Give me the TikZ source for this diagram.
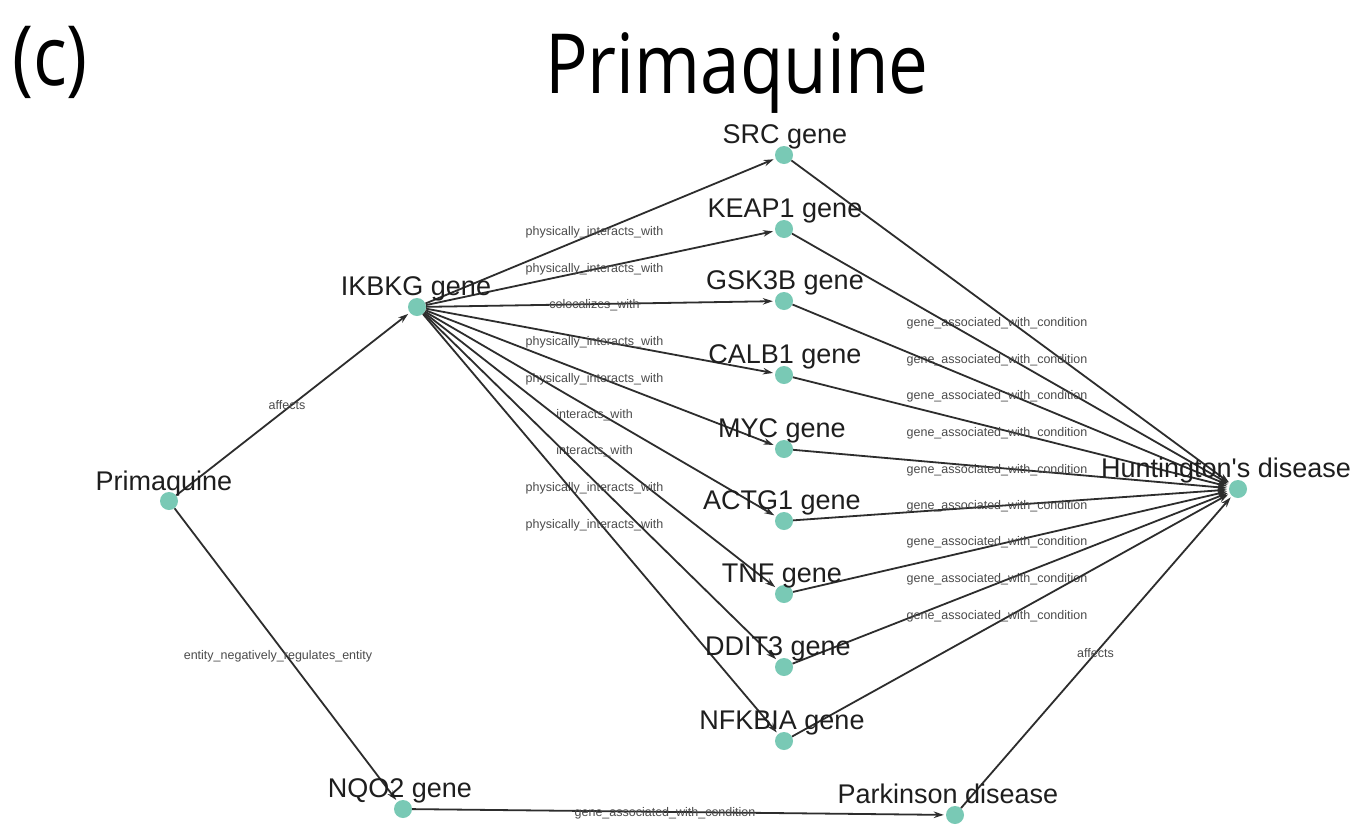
\documentclass[tikz,border=0pt]{standalone}
\usepackage{fontspec}
\setmainfont{Liberation Sans}
\newfontfamily\titlefont{Open Sans}
\usetikzlibrary{arrows.meta}
\definecolor{dotc}{RGB}{121,201,181}
\definecolor{edgec}{RGB}{45,45,45}
\definecolor{elab}{RGB}{75,75,75}
\definecolor{ntext}{RGB}{30,30,30}
\tikzset{
 dot/.style={circle,fill=dotc,inner sep=0pt,minimum size=18pt},
 nlabel/.style={anchor=base,inner sep=0pt,font=\fontsize{27}{27}\selectfont,text=ntext},
 rel/.style={draw=edgec,line width=1.8pt,-{Stealth[length=10pt,width=6.5pt]},shorten >=2pt},
 elabel/.style={midway,xshift=-6pt,yshift=-1pt,font=\fontsize{12.5}{12.5}\selectfont,text=elab,inner sep=0pt},
 gac/.style={elabel,xshift=-8pt},
 titlestyle/.style={anchor=base,inner sep=0pt,font=\titlefont\fontsize{83}{83}\selectfont,xscale=0.855}
}
\begin{document}
\begin{tikzpicture}[x=1pt,y=-1pt]
\useasboundingbox[fill=white] (0,0) rectangle (1361,836);

% titles
\node[titlestyle] (paneltag) at (50,85) {(c)};
\node[titlestyle] (title) at (737,93) {Primaquine};

% dots
\node[dot] (prim) at (169,501) {};
\node[dot] (ikbkg) at (417,307) {};
\node[dot] (src) at (784,155) {};
\node[dot] (keap1) at (784,229) {};
\node[dot] (gsk3b) at (784,301) {};
\node[dot] (calb1) at (784,375) {};
\node[dot] (myc) at (784,449) {};
\node[dot] (actg1) at (784,521) {};
\node[dot] (tnf) at (784,594) {};
\node[dot] (ddit3) at (784,667) {};
\node[dot] (nfkbia) at (784,741) {};
\node[dot] (hd) at (1238,489) {};
\node[dot] (nqo2) at (403,809) {};
\node[dot] (pd) at (955,815) {};

% edges
\draw[rel] (prim) -- node[elabel] (e1) {affects} (ikbkg);
\draw[rel] (prim) -- node[elabel,xshift=-2pt] (e2) {entity\_negatively\_regulates\_entity} (nqo2);
\draw[rel] (ikbkg) -- node[elabel] (e3) {physically\_interacts\_with} (src);
\draw[rel] (ikbkg) -- node[elabel] (e4) {physically\_interacts\_with} (keap1);
\draw[rel] (ikbkg) -- node[elabel] (e5) {colocalizes\_with} (gsk3b);
\draw[rel] (ikbkg) -- node[elabel] (e6) {physically\_interacts\_with} (calb1);
\draw[rel] (ikbkg) -- node[elabel] (e7) {physically\_interacts\_with} (myc);
\draw[rel] (ikbkg) -- node[elabel] (e8) {interacts\_with} (actg1);
\draw[rel] (ikbkg) -- node[elabel] (e9) {interacts\_with} (tnf);
\draw[rel] (ikbkg) -- node[elabel] (e10) {physically\_interacts\_with} (ddit3);
\draw[rel] (ikbkg) -- node[elabel] (e11) {physically\_interacts\_with} (nfkbia);
\draw[rel] (src) -- node[gac] (g1) {gene\_associated\_with\_condition} (hd);
\draw[rel] (keap1) -- node[gac] (g2) {gene\_associated\_with\_condition} (hd);
\draw[rel] (gsk3b) -- node[gac] (g3) {gene\_associated\_with\_condition} (hd);
\draw[rel] (calb1) -- node[gac] (g4) {gene\_associated\_with\_condition} (hd);
\draw[rel] (myc) -- node[gac] (g5) {gene\_associated\_with\_condition} (hd);
\draw[rel] (actg1) -- node[gac] (g6) {gene\_associated\_with\_condition} (hd);
\draw[rel] (tnf) -- node[gac] (g7) {gene\_associated\_with\_condition} (hd);
\draw[rel] (ddit3) -- node[gac] (g8) {gene\_associated\_with\_condition} (hd);
\draw[rel] (nfkbia) -- node[gac] (g9) {gene\_associated\_with\_condition} (hd);
\draw[rel] (nqo2) -- node[gac] (g10) {gene\_associated\_with\_condition} (pd);
\draw[rel] (pd) -- node[elabel,xshift=5pt] (e12) {affects} (hd);

% node labels
\node[nlabel] (lprim) at (164,490) {Primaquine};
\node[nlabel] (likbkg) at (416,295) {IKBKG gene};
\node[nlabel] (lsrc) at (785,143) {SRC gene};
\node[nlabel] (lkeap1) at (785,217) {KEAP1 gene};
\node[nlabel] (lgsk3b) at (785,289) {GSK3B gene};
\node[nlabel] (lcalb1) at (785,363) {CALB1 gene};
\node[nlabel] (lmyc) at (782,437) {MYC gene};
\node[nlabel] (lactg1) at (782,509) {ACTG1 gene};
\node[nlabel] (ltnf) at (782,582) {TNF gene};
\node[nlabel] (lddit3) at (778,655) {DDIT3 gene};
\node[nlabel] (lnfkbia) at (782,729) {NFKBIA gene};
\node[nlabel] (lhd) at (1226,477) {Huntington\textquotesingle s disease};
\node[nlabel] (lnqo2) at (400,797) {NQO2 gene};
\node[nlabel] (lpd) at (948,803) {Parkinson disease};
\end{tikzpicture}
\end{document}
